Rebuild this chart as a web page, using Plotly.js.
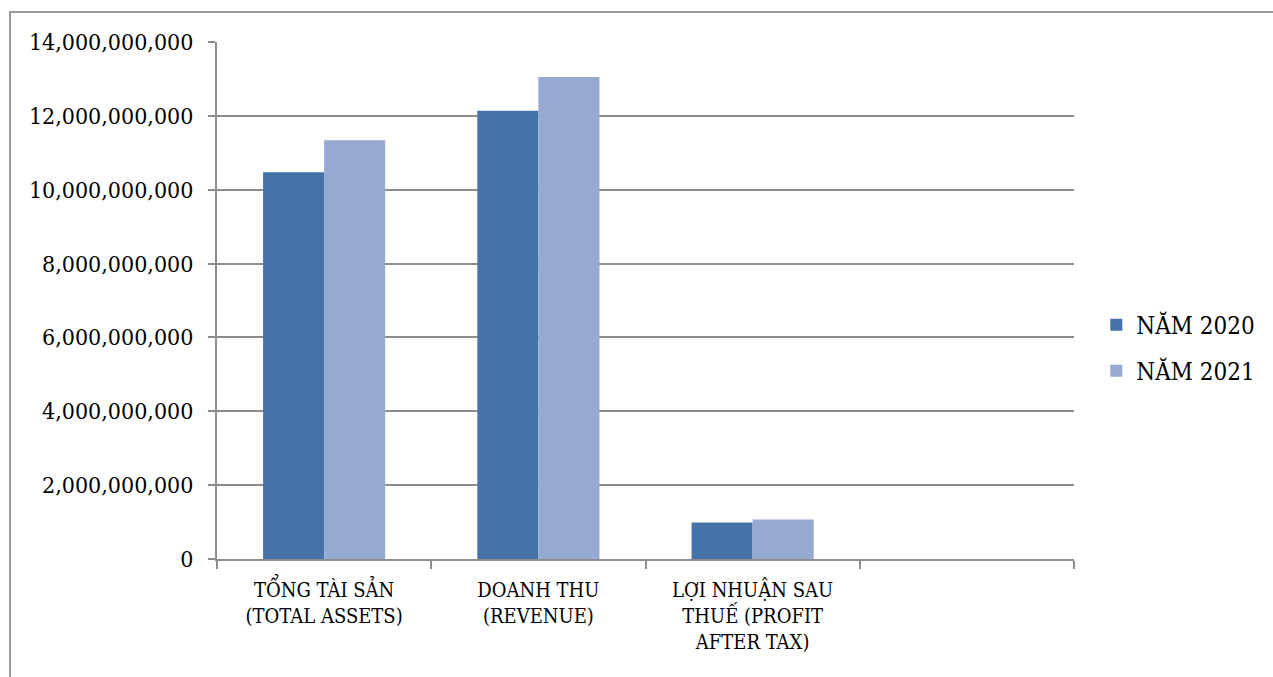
<!DOCTYPE html>
<html>
<head>
<meta charset="utf-8">
<script src="https://cdn.plot.ly/plotly-3.0.1.min.js"></script>
<style>
html,body{margin:0;padding:0;background:#fff;}
#frame{position:absolute;left:9px;top:11px;width:1300px;height:700px;border-left:2px solid #9a9a9a;border-top:2px solid #9a9a9a;}
#chart{position:absolute;left:0;top:0;width:1273px;height:677px;}
</style>
</head>
<body>
<div id="frame"></div>
<div id="chart"></div>
<script>
const categories = ["TỔNG TÀI SẢN<br>(TOTAL ASSETS)", "DOANH THU<br>(REVENUE)", "LỢI NHUẬN SAU<br>THUẾ (PROFIT<br>AFTER TAX)", " "];
const seriesNames = ["NĂM 2020", "NĂM 2021"];
const values2020 = [10470000000, 12140000000, 990000000, null];
const values2021 = [11340000000, 13050000000, 1070000000, null];
const tickVals = [0, 2000000000, 4000000000, 6000000000, 8000000000, 10000000000, 12000000000, 14000000000];
const tickText = ["0", "2,000,000,000", "4,000,000,000", "6,000,000,000", "8,000,000,000", "10,000,000,000", "12,000,000,000", "14,000,000,000"];
const colors = ["#4673A7", "#95A9D1"];

const font = "DejaVu Serif Condensed, DejaVu Serif";
const traces = [
  {type: "bar", name: seriesNames[0], legendgroup: "g2020", x: categories, y: values2020, marker: {color: colors[0]}, hoverinfo: "none"},
  {type: "bar", name: seriesNames[1], legendgroup: "g2021", x: categories, y: values2021, marker: {color: colors[1]}, hoverinfo: "none"}
];
const layout = {
  width: 1273, height: 677,
  margin: {l: 217, r: 199, t: 42, b: 118, autoexpand: false},
  paper_bgcolor: "rgba(0,0,0,0)",
  plot_bgcolor: "rgba(0,0,0,0)",
  font: {family: font},
  barmode: "group",
  bargap: 0.43,
  bargroupgap: 0,
  showlegend: true,
  legend: {x: 1.026, y: 0.408, xanchor: "left", yanchor: "middle", font: {family: font, size: 24, color: "#000"}, itemwidth: 30, tracegroupgap: 12},
  xaxis: {
    type: "category",
    categoryorder: "array", categoryarray: categories,
    showline: true, linecolor: "#8c8c8c", linewidth: 2,
    ticks: "outside", ticklen: 8, tickcolor: "#8c8c8c", tickwidth: 2,
    tickson: "boundaries",
    ticklabelstandoff: 12,
    showgrid: false,
    tickfont: {family: font, size: 20, color: "#000"},
    fixedrange: true
  },
  yaxis: {
    range: [0, 14000000000],
    tickvals: tickVals, ticktext: tickText,
    showline: true, linecolor: "#8c8c8c", linewidth: 2,
    ticks: "outside", ticklen: 7, tickcolor: "#8c8c8c", tickwidth: 2,
    ticklabelstandoff: 10,
    showgrid: true, gridcolor: "#8c8c8c", gridwidth: 2,
    zeroline: false,
    tickfont: {family: font, size: 23, color: "#000"},
    fixedrange: true
  }
};
Plotly.newPlot("chart", traces, layout, {displayModeBar: false, staticPlot: true});
</script>
</body>
</html>
